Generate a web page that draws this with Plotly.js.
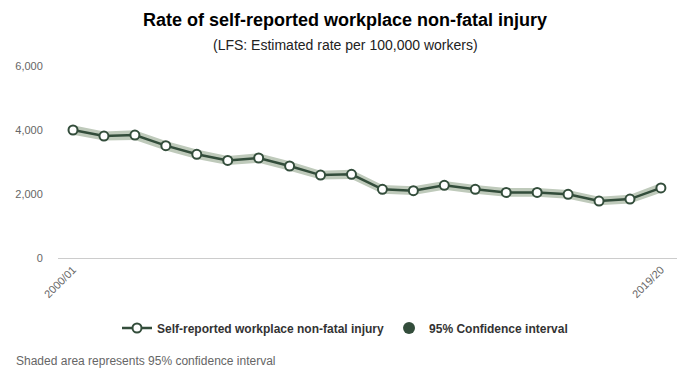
<!DOCTYPE html>
<html>
<head>
<meta charset="utf-8">
<script src="https://cdn.plot.ly/plotly-3.0.1.min.js"></script>
<style>html,body{margin:0;padding:0;background:#fff;}#chart{width:693px;height:388px;}</style>
</head>
<body>
<div id="chart"></div>
<script>
const years = ["2000/01","2001/02","2002/03","2003/04","2004/05","2005/06","2006/07","2007/08","2008/09","2009/10",
               "2010/11","2011/12","2012/13","2013/14","2014/15","2015/16","2016/17","2017/18","2018/19","2019/20"];
const rate  = [4000,3810,3840,3510,3240,3050,3125,2875,2590,2615,2145,2105,2270,2145,2050,2050,1990,1780,1840,2190];
const ciLow = [3850,3670,3690,3360,3090,2910,2975,2725,2450,2470,2010,1970,2130,2010,1915,1915,1855,1645,1705,2040];
const ciHigh= [4150,3950,3990,3660,3390,3190,3275,3025,2730,2760,2280,2240,2410,2280,2185,2185,2125,1915,1975,2340];
const tickLabels = ["2000/01","2019/20"];

const idx = years.map((_, i) => i);
const dark = '#334d3b';
const band = '#bfcabb';

const traces = [
  {x: idx, y: ciLow, type: 'scatter', mode: 'lines', line: {width: 0, color: band}, showlegend: false, hoverinfo: 'skip'},
  {x: idx, y: ciHigh, type: 'scatter', mode: 'lines', line: {width: 0, color: band}, fill: 'tonexty', fillcolor: band, showlegend: false, hoverinfo: 'skip'},
  {x: idx, y: rate, type: 'scatter', mode: 'lines+markers', name: '<b>Self-reported workplace non-fatal injury</b>',
   line: {color: dark, width: 2.5}, marker: {size: 9, color: '#ffffff', line: {color: dark, width: 2}}},
  {x: [null], y: [null], type: 'scatter', mode: 'markers', name: '<b>95% Confidence interval</b>',
   marker: {size: 12, color: dark}}
];

const layout = {
  width: 693, height: 388,
  margin: {l: 58, r: 16, t: 66, b: 130},
  paper_bgcolor: '#fff', plot_bgcolor: '#fff',
  font: {family: '"Liberation Sans", Arial, sans-serif', color: '#333'},
  title: {text: '<b>Rate of self-reported workplace non-fatal injury</b>', font: {size: 18, color: '#000'},
          x: 345/693, xref: 'container', xanchor: 'center', y: 1 - 20/388, yref: 'container', yanchor: 'middle'},
  annotations: [
    {text: '(LFS: Estimated rate per 100,000 workers)', xref: 'paper', yref: 'paper',
     x: (345 - 58) / 619, y: (258 - 45) / 192, xanchor: 'center', yanchor: 'middle', showarrow: false,
     font: {size: 14, color: '#222'}},
    {text: 'Shaded area represents 95% confidence interval', xref: 'paper', yref: 'paper',
     x: (14 - 58) / 619, y: (258 - 361) / 192, xanchor: 'left', yanchor: 'middle', showarrow: false,
     font: {size: 12, color: '#666'}}
  ],
  xaxis: {
    range: [-0.485, 19.52], tickvals: [0, 19], ticktext: tickLabels, tickangle: -45,
    showgrid: false, zeroline: false, showline: true, linecolor: '#cccccc', linewidth: 1,
    ticks: '', tickfont: {size: 11, color: '#666'}, fixedrange: true
  },
  yaxis: {
    range: [0, 6000], tickvals: [0, 2000, 4000, 6000], tickformat: ',',
    showgrid: false, zeroline: false, showline: false,
    ticks: 'outside', ticklen: 12, tickcolor: 'rgba(0,0,0,0)',
    tickfont: {size: 11, color: '#666'}, fixedrange: true
  },
  legend: {orientation: 'h', traceorder: 'normal', xref: 'container', yref: 'container', x: 345/693, xanchor: 'center',
           y: 1 - 328/388, yanchor: 'middle', font: {size: 12, color: '#333'}},
  showlegend: true
};

Plotly.newPlot('chart', traces, layout, {displayModeBar: false, staticPlot: true});
</script>
</body>
</html>
